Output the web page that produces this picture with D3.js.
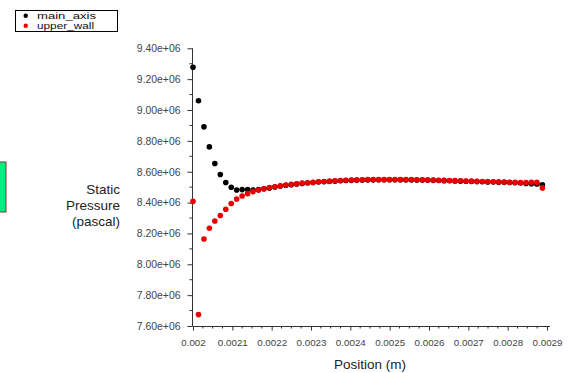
<!DOCTYPE html>
<html><head><meta charset="utf-8">
<script src="https://cdn.jsdelivr.net/npm/d3@7"></script>
<style>html,body{margin:0;padding:0;background:#fff;}svg{display:block;}</style>
</head><body>
<svg id="c" width="573" height="373"></svg>
<script>
// ---- data ----
const positions = [
0.0020000,0.0020139,0.0020278,0.0020416,0.0020555,0.0020694,0.0020833,0.0020972,0.0021110,0.0021249,
0.0021388,0.0021527,0.0021666,0.0021804,0.0021943,0.0022082,0.0022221,0.0022360,0.0022498,0.0022637,
0.0022776,0.0022915,0.0023054,0.0023192,0.0023331,0.0023470,0.0023609,0.0023748,0.0023886,0.0024025,
0.0024164,0.0024303,0.0024442,0.0024580,0.0024719,0.0024858,0.0024997,0.0025136,0.0025274,0.0025413,
0.0025552,0.0025691,0.0025830,0.0025968,0.0026107,0.0026246,0.0026385,0.0026524,0.0026662,0.0026801,
0.0026940,0.0027079,0.0027218,0.0027356,0.0027495,0.0027634,0.0027773,0.0027912,0.0028050,0.0028189,
0.0028328,0.0028467,0.0028606,0.0028744,0.0028883];
const upperWall = [
8.408,7.674,8.164,8.234,8.281,8.316,8.357,8.394,8.423,8.443,
8.458,8.471,8.481,8.490,8.497,8.503,8.509,8.514,8.518,8.522,
8.526,8.529,8.532,8.535,8.537,8.539,8.541,8.543,8.545,8.546,
8.547,8.548,8.549,8.549,8.550,8.550,8.550,8.550,8.550,8.549,
8.549,8.548,8.548,8.547,8.546,8.545,8.544,8.543,8.542,8.541,
8.540,8.539,8.538,8.537,8.536,8.535,8.534,8.533,8.532,8.531,
8.530,8.530,8.531,8.532,8.495];
const mainAxis = [
9.277,9.060,8.891,8.761,8.653,8.582,8.530,8.499,8.482,8.484,
8.485,8.482,8.485,8.490,8.495,8.501,8.507,8.512,8.516,8.520,
8.524,8.527,8.530,8.533,8.535,8.537,8.539,8.541,8.543,8.544,
8.545,8.546,8.547,8.547,8.548,8.548,8.548,8.548,8.548,8.547,
8.547,8.546,8.546,8.545,8.544,8.543,8.542,8.541,8.540,8.539,
8.538,8.537,8.536,8.535,8.534,8.533,8.532,8.531,8.530,8.529,
8.527,8.524,8.522,8.520,8.515];
const seriesNames = ["main_axis","upper_wall"];
const yTicks = [7.6e6,7.8e6,8.0e6,8.2e6,8.4e6,8.6e6,8.8e6,9.0e6,9.2e6,9.4e6];
const xTicks = [0.002,0.0021,0.0022,0.0023,0.0024,0.0025,0.0026,0.0027,0.0028,0.0029];
const xTitle = "Position (m)";
const yTitle = ["Static","Pressure","(pascal)"];

// ---- drawing ----
const svg = d3.select("#c");
const x = d3.scaleLinear().domain([0.002,0.0029]).range([193,547]);
const y = d3.scaleLinear().domain([7.6e6,9.4e6]).range([326,48.3]);
const axisCol = "#333";
const labelCol = "#444";
const font = "'Liberation Sans', Arial, sans-serif";

// green side box
svg.append("rect").attr("x",-1).attr("y",162).attr("width",7).attr("height",50)
  .attr("fill","#00f080").attr("stroke","#7a3b2e").attr("stroke-width",1);

// legend
const lg = svg.append("g");
lg.append("rect").attr("x",15.5).attr("y",10.5).attr("width",102).attr("height",21)
  .attr("fill","#fff").attr("stroke","#000").attr("stroke-width",1);
const lcols = ["#000","#e80000"];
const lwidths = [59,57];
seriesNames.forEach((n,i)=>{
  lg.append("circle").attr("cx",25.7).attr("cy",15.8+i*10).attr("r",2.2).attr("fill",lcols[i]);
  lg.append("text").attr("x",37).attr("y",19.3+i*10).text(n)
    .attr("textLength",lwidths[i]).attr("lengthAdjust","spacingAndGlyphs")
    .attr("font-family",font).attr("font-size",9.4).attr("fill","#111");
});

// y axis
const yAxis = d3.axisLeft(y).tickValues(yTicks).tickSize(5).tickFormat(d=>{
  const m = d/1e6; return m.toFixed(2)+"e+06";});
const gy = svg.append("g").attr("transform","translate(192.5,0)").call(yAxis);
gy.select(".domain").attr("d","M0,48.3V326").attr("stroke",axisCol);
gy.selectAll(".tick line").attr("stroke",axisCol);
gy.selectAll(".tick text").attr("font-family",font).attr("font-size",10.4).attr("fill",labelCol).attr("x",-12);
const yMinor = d3.range(9).map(i=>yTicks[i]+1e5);
gy.selectAll(".ym").data(yMinor).join("line").attr("class","ym")
  .attr("x1",-3).attr("x2",0).attr("y1",d=>y(d)).attr("y2",d=>y(d)).attr("stroke",axisCol);

// x axis
const xAxis = d3.axisBottom(x).tickValues(xTicks).tickSize(4).tickFormat(d=>String(+d.toFixed(4)));
const gx = svg.append("g").attr("transform","translate(0,326.5)").call(xAxis);
gx.select(".domain").attr("d","M192.5,0H550").attr("stroke",axisCol);
gx.selectAll(".tick line").attr("stroke",axisCol);
gx.selectAll(".tick text").attr("font-family",font).attr("font-size",9.8).attr("fill",labelCol).attr("y",13);
const xMinor = [];
for (let i=0;i<9;i++) for (let k=1;k<4;k++) xMinor.push(xTicks[i]+k*0.000025);
gx.selectAll(".xm").data(xMinor).join("line").attr("class","xm")
  .attr("x1",d=>x(d)).attr("x2",d=>x(d)).attr("y1",0).attr("y2",2).attr("stroke",axisCol);

// titles
svg.append("text").attr("x",370).attr("y",369).attr("text-anchor","middle").text(xTitle)
  .attr("font-family",font).attr("font-size",13.5).attr("fill","#222");
yTitle.forEach((t,i)=>{
  svg.append("text").attr("x",120).attr("y",194+i*16).attr("text-anchor","end").text(t)
    .attr("font-family",font).attr("font-size",13.5).attr("fill","#222");
});

// points
const pts = svg.append("g");
pts.selectAll(".b").data(positions).join("circle").attr("class","b")
  .attr("cx",d=>x(d)).attr("cy",(d,i)=>y(mainAxis[i]*1e6)).attr("r",2.8).attr("fill","#000");
pts.selectAll(".r").data(positions).join("circle").attr("class","r")
  .attr("cx",d=>x(d)).attr("cy",(d,i)=>y(upperWall[i]*1e6)).attr("r",2.8).attr("fill","#e80000");
</script>
</body></html>
